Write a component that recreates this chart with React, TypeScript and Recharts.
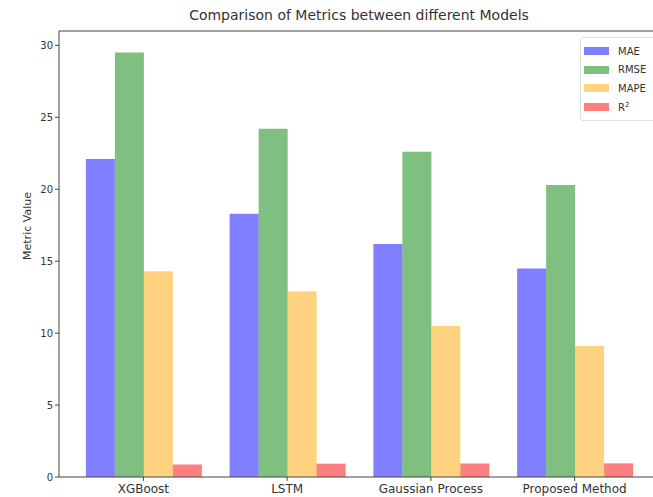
import React from 'react';
import { BarChart, Bar, XAxis, YAxis, ReferenceLine } from 'recharts';

const models = ['XGBoost', 'LSTM', 'Gaussian Process', 'Proposed Method'];
const mae = [22.1, 18.3, 16.2, 14.5];
const rmse = [29.5, 24.2, 22.6, 20.3];
const mape = [14.3, 12.9, 10.5, 9.1];
const r2 = [0.87, 0.93, 0.94, 0.95];
const yTicks = [0, 5, 10, 15, 20, 25, 30];
const yMax = 31;

const series = [
  { key: 'MAE', color: '#0000ff', label: 'MAE' },
  { key: 'RMSE', color: '#008000', label: 'RMSE' },
  { key: 'MAPE', color: '#ffa500', label: 'MAPE' },
  { key: 'R2', color: '#ff0000', label: 'R2' },
];

const chartData = models.map((m, i) => ({
  model: m,
  MAE: mae[i],
  RMSE: rmse[i],
  MAPE: mape[i],
  R2: r2[i],
}));

const FONT = '"DejaVu Sans", sans-serif';
const TEXT = '#333';

// legend drawn as an overlay so it doesn't shrink the plot area
const LegendBox = () => (
  <div
    style={{
      position: 'absolute',
      left: 580,
      top: 37,
      width: 80,
      border: '1px solid #ddd',
      borderRadius: 3,
      background: 'rgba(255,255,255,0.8)',
      padding: '4px 0 4px 3px',
      fontFamily: FONT,
      fontSize: 10,
      color: TEXT,
    }}
  >
    {series.map((s) => (
      <div key={s.key} style={{ display: 'flex', alignItems: 'center', height: 18.5 }}>
        <span
          style={{
            display: 'inline-block',
            width: 25,
            height: 8,
            background: s.color,
            opacity: 0.5,
            marginRight: 9,
          }}
        />
        {s.key === 'R2' ? (
          <span>
            R<sup style={{ fontSize: 7 }}>2</sup>
          </span>
        ) : (
          <span>{s.label}</span>
        )}
      </div>
    ))}
  </div>
);

export default function App() {
  return (
    <div
      style={{
        position: 'fixed',
        left: 0,
        top: 0,
        width: 653,
        height: 497,
        overflow: 'hidden',
        background: '#fff',
      }}
    >
      <div
        style={{
          position: 'absolute',
          top: 7,
          left: 59,
          width: 600,
          textAlign: 'center',
          fontFamily: FONT,
          fontSize: 14,
          color: TEXT,
        }}
      >
        Comparison of Metrics between different Models
      </div>
      <div
        style={{
          position: 'absolute',
          left: 27,
          top: 226,
          transform: 'translate(-50%, -50%) rotate(-90deg)',
          fontFamily: FONT,
          fontSize: 11,
          color: TEXT,
          whiteSpace: 'nowrap',
        }}
      >
        Metric Value
      </div>
      <BarChart
        width={660}
        height={497}
        data={chartData}
        margin={{ top: 31, right: 1, bottom: 0, left: 0 }}
        barCategoryGap="10%"
        barGap={0}
      >
        <XAxis
          dataKey="model"
          interval={0}
          height={20}
          padding={{ left: 12.5, right: 12.5 }}
          stroke="#444"
          tickSize={4}
          tick={{ fill: TEXT, fontSize: 12, fontFamily: FONT, dy: 1 }}
        />
        <YAxis
          width={59}
          domain={[0, yMax]}
          ticks={yTicks}
          interval={0}
          stroke="#444"
          tickSize={4}
          tick={{ fill: TEXT, fontSize: 10, fontFamily: FONT }}
        />
        {series.map((s) => (
          <Bar
            key={s.key}
            dataKey={s.key}
            fill={s.color}
            fillOpacity={0.5}
            isAnimationActive={false}
          />
        ))}
        <ReferenceLine y={yMax} stroke="#444" strokeWidth={1} />
      </BarChart>
      <LegendBox />
    </div>
  );
}
